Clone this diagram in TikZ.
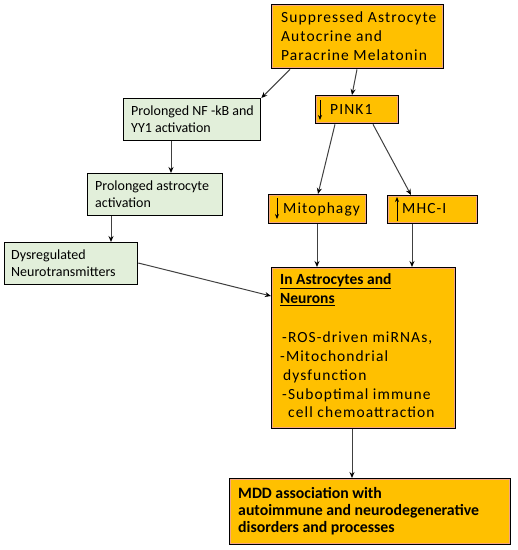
\documentclass[tikz,border=0pt]{standalone}
\usepackage{fontspec}
\setmainfont{Carlito}
\newfontfamily\spaced[LetterSpace=7]{Carlito}
\usetikzlibrary{arrows.meta}
\definecolor{orbox}{HTML}{FFC000}
\definecolor{rim}{HTML}{F4A582}
\definecolor{grbox}{HTML}{E2EFDA}
\definecolor{lnk}{HTML}{404040}
\begin{document}
\begin{tikzpicture}[x=1pt,y=-1pt,
  obox/.style={draw=black,line width=1.3pt,fill=rim,anchor=north west,inner sep=0pt,
    path picture={\fill[orbox] ([shift={(1.6pt,-1.6pt)}]path picture bounding box.north west) rectangle ([shift={(-1.6pt,1.6pt)}]path picture bounding box.south east);}},
  gbox/.style={draw=black,line width=1.3pt,fill=grbox,anchor=north west,inner sep=0pt},
  link/.style={draw=lnk,line width=1pt,-{Stealth[length=6pt,width=5pt,color=black]}},
  arrmark/.style={draw=black,line width=0.8pt,-{Stealth[length=5pt,width=4pt]}},
  gtxt/.style={anchor=west,align=left,font=\fontsize{14}{16.5}\selectfont,inner sep=0pt},
  otxt/.style={anchor=west,align=left,font=\fontsize{15.5}{19}\spaced,inner sep=0pt}
]
\useasboundingbox (0,0) rectangle (518,550);
% boxes
\node[obox,minimum width=172pt,minimum height=64pt] (top) at (271,4) {};
\node[otxt] (toptxt) at (281,36) {Suppressed Astrocyte\\Autocrine and\\Paracrine Melatonin};

\node[obox,minimum width=83pt,minimum height=28pt] (pink) at (315,95) {};
\node[otxt] (pinktxt) at (330,110) {PINK1};

\node[gbox,minimum width=137pt,minimum height=42pt] (nfkb) at (123,98) {};
\node[gtxt] (nfkbtxt) at (131,119) {Prolonged NF -kB and\\YY1 activation};

\node[gbox,minimum width=135pt,minimum height=42pt] (astro) at (87,173) {};
\node[gtxt] (astrotxt) at (95,194) {Prolonged astrocyte\\activation};

\node[gbox,minimum width=133pt,minimum height=42pt] (dys) at (4,242) {};
\node[gtxt] (dystxt) at (11,263) {Dysregulated\\Neurotransmitters};

\node[obox,minimum width=98pt,minimum height=29pt] (mito) at (268,194) {};
\node[otxt] (mitotxt) at (283,209) {Mitophagy};

\node[obox,minimum width=90pt,minimum height=28pt] (mhc) at (387,195) {};
\node[otxt] (mhctxt) at (402,209) {MHC-I};

\node[obox,minimum width=184pt,minimum height=161pt] (big) at (271,267) {};
\node[anchor=north west,align=left,font=\fontsize{15.5}{19.5}\bfseries,inner sep=0pt] (bighead) at (280,273) {\underline{In Astrocytes and}\\\underline{Neurons}};
\node[anchor=north west,align=left,font=\fontsize{15.5}{18.7}\spaced,inner sep=0pt] (bigtxt) at (280,332) {\hspace{2pt}-ROS-driven miRNAs,\\-Mitochondrial\\\hspace{3pt}dysfunction\\\hspace{2pt}-Suboptimal immune\\\hspace{8pt}cell chemoattraction};

\node[obox,minimum width=281pt,minimum height=66pt] (mdd) at (229,478) {};
\node[anchor=west,align=left,font=\fontsize{15.8}{17.2}\bfseries,inner sep=0pt] (mddtxt) at (238,511) {MDD association with\\autoimmune and neurodegenerative\\disorders and processes};

% small arrow marks
\coordinate (pa) at (320,100); \coordinate (pb) at (320,120);
\draw[arrmark] (pa) -- (pb);
\coordinate (ma) at (277,198); \coordinate (mb) at (277,219);
\draw[arrmark] (ma) -- (mb);
\coordinate (ha) at (397,221); \coordinate (hb) at (397,197);
\draw[arrmark] (ha) -- (hb);

% connectors
\draw[link] ([xshift=19pt]top.south west) -- (nfkb.north east);
\draw[link] ([xshift=86pt]top.south west) -- ([xshift=37pt]pink.north west);
\draw[link] ([xshift=20pt]pink.south west) -- ([xshift=50pt]mito.north west);
\draw[link] ([xshift=58pt]pink.south west) -- ([xshift=24pt]mhc.north west);
\draw[link] ([xshift=48pt]nfkb.south west) -- ([xshift=84pt]astro.north west);
\draw[link] ([xshift=24pt]astro.south west) -- ([xshift=107pt]dys.north west);
\draw[link] ([xshift=49pt]mito.south west) -- ([xshift=46pt]big.north west);
\draw[link] ([xshift=25pt]mhc.south west) -- ([xshift=141pt]big.north west);
\draw[link] ([yshift=-21pt]dys.north east) -- ([yshift=-29pt]big.north west);
\draw[link] ([xshift=81pt]big.south west) -- ([xshift=123pt]mdd.north west);
\end{tikzpicture}
\end{document}
